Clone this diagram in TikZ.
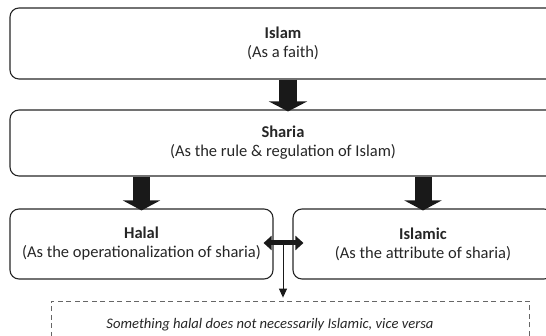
\documentclass[tikz,border=0pt]{standalone}
\usepackage{fontspec}
\setmainfont{Carlito}
\usetikzlibrary{arrows.meta,calc}
\begin{document}
\begin{tikzpicture}[x=1pt,y=1pt,font=\fontsize{16.5}{19}\selectfont]
      \useasboundingbox (0,0) rectangle (546,336);
      \begin{scope}[every node/.style={draw=black!85,line width=1.1pt,rounded corners=9pt,align=center,text=black!85}]
        \node[minimum width=546pt,minimum height=71pt] (islam) at (283,292.5) {\textbf{Islam}\\(As a faith)};
        \node[minimum width=546pt,minimum height=66pt] (sharia) at (283,193) {\textbf{Sharia}\\(As the rule \& regulation of Islam)};
        \node[minimum width=263pt,minimum height=70pt] (halal) at (141.5,92) {\textbf{Halal}\\(As the operationalization of sharia)};
        \node[minimum width=260pt,minimum height=70pt] (islamic) at (423,92) {\textbf{Islamic}\\(As the attribute of sharia)};
      \end{scope}
      \node[draw=black!60,line width=0.8pt,dash pattern=on 5pt off 3.5pt,minimum width=478pt,minimum height=50pt] (notebox) at (290,10) {};
      \node[anchor=base,text=black!85,font=\fontsize{14.6}{17}\selectfont\itshape] (note) at (270,7) {Something halal does not necessarily Islamic, vice versa};
      \coordinate (mid) at ($(halal.east)!0.5!(islamic.west)$);
      \begin{scope}[every edge/.style={draw=black!90}]
        \path ([xshift=5pt]islam.south) edge[line width=18pt,-{Triangle[width=38pt,length=10pt]}] ([xshift=5pt,yshift=-2pt]sharia.north);
        \path (sharia.south -| halal.north) edge[line width=17pt,-{Triangle[width=37pt,length=10pt]}] ([yshift=-2pt]halal.north);
        \path (sharia.south -| islamic.north) edge[line width=17pt,-{Triangle[width=37pt,length=10pt]}] ([yshift=-2pt]islamic.north);
        \path ([xshift=-10pt,yshift=1pt]halal.east) edge[line width=5pt,{Triangle[width=14pt,length=8pt]}-{Triangle[width=14pt,length=8pt]}] ([xshift=11pt,yshift=1pt]islamic.west);
        \path ([yshift=1pt]mid) edge[line width=1pt,-{Triangle[width=8pt,length=9pt]},shorten >=3pt] (mid |- notebox.north);
      \end{scope}
    \end{tikzpicture}
\end{document}
